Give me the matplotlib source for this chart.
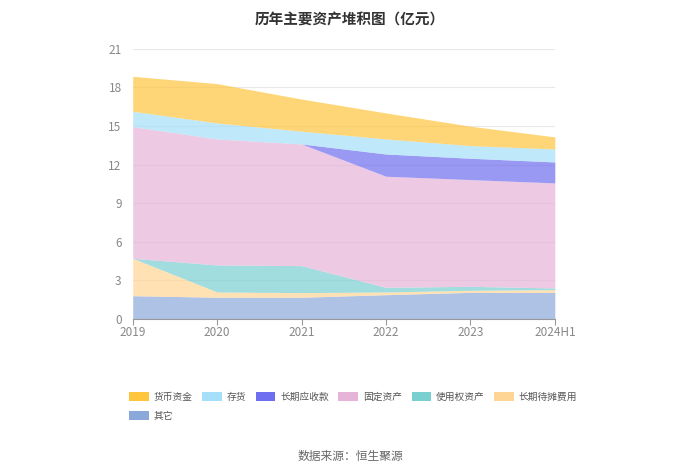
import numpy as np
import matplotlib
matplotlib.use("Agg")
import matplotlib.pyplot as plt
from matplotlib.patches import Patch

plt.rcParams['font.family'] = ['Noto Sans CJK SC', 'DejaVu Sans']

# =============================================================================
# DATA (亿元)
# =============================================================================

years = ["2019", "2020", "2021", "2022", "2023", "2024H1"]

other = [1.81, 1.69, 1.69, 1.89, 2.07, 2.07]            # 其它
prepaid = [2.91, 0.41, 0.36, 0.21, 0.16, 0.21]          # 长期待摊费用
right_of_use = [0.00, 2.10, 2.10, 0.36, 0.31, 0.13]     # 使用权资产
fixed = [10.24, 9.80, 9.46, 8.64, 8.30, 8.17]           # 固定资产
lt_receivable = [0.00, 0.00, 0.00, 1.73, 1.66, 1.63]    # 长期应收款
inventory = [1.19, 1.24, 0.99, 1.17, 0.98, 1.01]        # 存货
cash = [2.72, 3.06, 2.50, 2.02, 1.51, 0.94]             # 货币资金

# bottom to top
series = [
    ("其它", other, "#8aa8da"),
    ("长期待摊费用", prepaid, "#ffd595"),
    ("使用权资产", right_of_use, "#7acfd0"),
    ("固定资产", fixed, "#e6b3d9"),
    ("长期应收款", lt_receivable, "#6e6ef0"),
    ("存货", inventory, "#a5dff9"),
    ("货币资金", cash, "#ffc53d"),
]

# =============================================================================
# PLOT
# =============================================================================

fig = plt.figure(figsize=(7, 4.73), dpi=100)
ax = fig.add_axes([0.1896, 0.3256, 0.603, 0.571])

x = np.arange(len(years))
base = np.zeros(len(years))
for name, vals, col in series:
    top = base + np.array(vals)
    ax.fill_between(x, base, top, color=col, alpha=0.7, lw=0)
    base = top

ax.set_xlim(0, len(years) - 1)
ax.set_ylim(0, 21)
ax.set_yticks(np.arange(0, 22, 3))
ax.set_xticks(x)
ax.set_xticklabels(years)
ax.grid(axis="y", color="#e8e8e8", lw=0.8)
ax.set_axisbelow(True)

for s in ["top", "right", "left"]:
    ax.spines[s].set_visible(False)
ax.spines["bottom"].set_color("#999999")
ax.tick_params(axis="y", length=0, colors="#888888", labelsize=8.5, pad=8)
ax.tick_params(axis="x", length=4, color="#999999", colors="#888888", labelsize=8.5, pad=1)

fig.text(0.5, 0.975, "历年主要资产堆积图（亿元）", ha="center", va="top",
         fontsize=10.5, fontweight="bold", color="#333333")

# legend: first column holds 货币资金 and 其它 so the wrap matches
order = ["货币资金", "其它", "存货", "长期应收款", "固定资产", "使用权资产", "长期待摊费用"]
colors = {n: c for n, _, c in series}
handles = [Patch(facecolor=colors[n], edgecolor="none", label=n) for n in order]
fig.legend(handles=handles, ncol=6, loc="upper left", bbox_to_anchor=(0.172, 0.19),
           frameon=False, fontsize=7, handlelength=2.0, handleheight=1.1,
           handletextpad=0.5, columnspacing=1.0, labelspacing=0.9,
           labelcolor="#555555")

fig.text(0.5, 0.034, "数据来源：恒生聚源", ha="center", va="center",
         fontsize=8.5, color="#666666")

fig.savefig("out.png", dpi=100)
